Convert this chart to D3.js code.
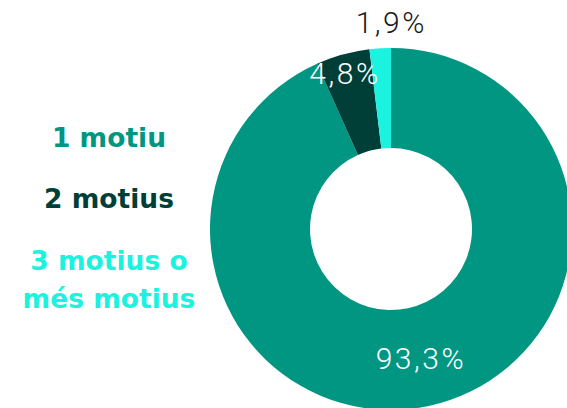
<!DOCTYPE html>
<html>
<head>
<meta charset="utf-8">
<script src="https://cdn.jsdelivr.net/npm/d3@7"></script>
<style>
  body { margin: 0; background: #fff; }
  svg { display: block; }
</style>
</head>
<body>
<svg id="chart"></svg>
<script>
// dades
var categories = ['1 motiu', '2 motius', '3 motius o més motius'];
var values = [93.3, 4.8, 1.9];
var labels = ['93,3%', '4,8%', '1,9%'];
var colors = ['#009682', '#003f37', '#1cf2e0'];
var legendLines = [['1 motiu'], ['2 motius'], ['3 motius o', 'més motius']];

var width = 567, height = 408;
var cx = 391, cy = 229, outerR = 181, innerR = 81;

var svg = d3.select('#chart').attr('width', width).attr('height', height);

var pie = d3.pie().sort(null).value(function (d) { return d; });
var arc = d3.arc().innerRadius(innerR).outerRadius(outerR);

var g = svg.append('g').attr('transform', 'translate(' + cx + ',' + cy + ')');
var arcs = pie(values);

g.selectAll('path')
  .data(arcs)
  .enter()
  .append('path')
  .attr('d', arc)
  .attr('fill', function (d, i) { return colors[i]; });

// etiquetes de percentatge (radi + petit desplaçament)
var labelR = [143, 150, 196];
var labelDx = [0, -6, 12];
var labelFill = ['#fff', '#fff', '#1a1a1a'];

function polar(d, i) {
  var a = (d.startAngle + d.endAngle) / 2;
  return [Math.sin(a) * labelR[i] + labelDx[i], -Math.cos(a) * labelR[i]];
}

g.selectAll('text.pct')
  .data(arcs)
  .enter()
  .append('text')
  .attr('class', 'pct')
  .attr('x', function (d, i) { return polar(d, i)[0]; })
  .attr('y', function (d, i) { return polar(d, i)[1]; })
  .attr('text-anchor', 'middle')
  .attr('fill', function (d, i) { return labelFill[i]; })
  .style('font-family', 'Roboto, sans-serif')
  .style('font-weight', 300)
  .style('font-size', '30px')
  .style('letter-spacing', '2.5px')
  .text(function (d, i) { return labels[i]; });

// llegenda
var legendY = [147, 208, 270];
var leg = svg.append('g');
legendLines.forEach(function (lines, i) {
  var t = leg.append('text')
    .attr('x', 109)
    .attr('y', legendY[i])
    .attr('text-anchor', 'middle')
    .attr('fill', colors[i])
    .style('font-family', '"DejaVu Sans", sans-serif')
    .style('font-weight', 700)
    .style('font-size', '26.5px');
  lines.forEach(function (l, j) {
    t.append('tspan').attr('x', 109).attr('dy', j === 0 ? 0 : 38).text(l);
  });
});
</script>
</body>
</html>
